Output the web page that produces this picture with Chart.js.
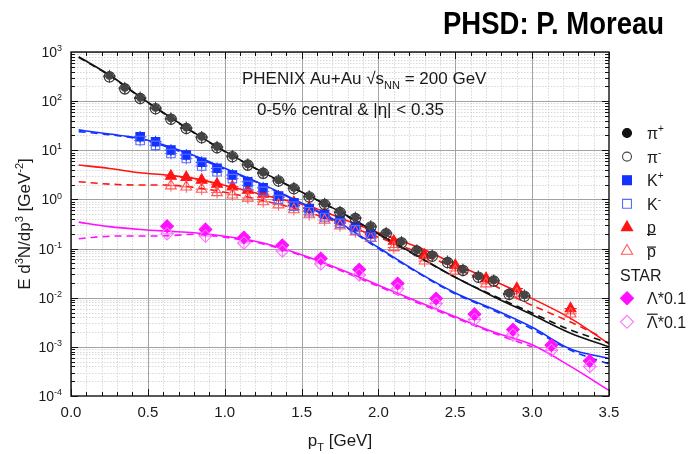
<!DOCTYPE html>
<html lang="en">
<head>
<meta charset="UTF-8">
<title>PHSD: P. Moreau - PHENIX Au+Au spectra</title>
<script src="https://cdn.jsdelivr.net/npm/chart.js"></script>
<style>
  html, body { margin: 0; padding: 0; background: #fff; }
  #wrap { width: 694px; height: 454px; }
</style>
</head>
<body>
<div id="wrap"><canvas id="spectra" width="694" height="454"></canvas></div>
<script>
// ---- PHENIX / STAR data points (pT in GeV, E d3N/dp3 in GeV^-2) ----
const pionPt = [0.25, 0.35, 0.45, 0.55, 0.65, 0.75, 0.85, 0.95, 1.05, 1.15, 1.25, 1.35, 1.45, 1.55,
                1.65, 1.75, 1.85, 1.95, 2.05, 2.15, 2.25, 2.35, 2.45, 2.55, 2.65, 2.75, 2.85, 2.95];
const piPlus = [329, 187, 119, 73, 45, 29, 18.8, 11.8, 7.7, 5.2, 3.55, 2.47, 1.72, 1.17,
                0.82, 0.56, 0.43, 0.286, 0.209, 0.137, 0.093, 0.073, 0.055, 0.0375, 0.0274, 0.0227, 0.0122, 0.0112];
const piMinus = [312, 178, 113, 70, 43, 27.8, 18, 11.3, 7.4, 5.0, 3.4, 2.37, 1.65, 1.12,
                 0.79, 0.54, 0.41, 0.275, 0.2, 0.131, 0.089, 0.07, 0.052, 0.036, 0.0262, 0.0218, 0.0117, 0.0107];

const kaonPt = [0.45, 0.55, 0.65, 0.75, 0.85, 0.95, 1.05, 1.15, 1.25, 1.35, 1.45, 1.55, 1.65, 1.75, 1.85, 1.95];
const kPlus  = [18.8, 14.9, 10.1, 8.0, 5.7, 4.3, 3.13, 2.28, 1.72, 1.17, 0.853, 0.656, 0.5, 0.38, 0.28, 0.2];
const kMinus = [15.8, 12.6, 8.6, 6.8, 4.8, 3.65, 2.65, 1.93, 1.46, 1.0, 0.73, 0.56, 0.43, 0.325, 0.24, 0.172];

const protonPt = [0.65, 0.75, 0.85, 0.95, 1.05, 1.15, 1.25, 1.35, 1.45, 1.55, 1.65, 1.75, 1.85, 1.95,
                  2.1, 2.3, 2.5, 2.7, 2.9, 3.25];
const proton     = [2.98, 2.81, 2.47, 2.05, 1.81, 1.55, 1.28, 1.10, 0.869, 0.68, 0.52, 0.40, 0.30, 0.219,
                    0.1415, 0.0734, 0.0453, 0.0246, 0.0154, 0.006];
const antiProton = [1.9, 1.8, 1.62, 1.38, 1.24, 1.07, 0.9, 0.78, 0.62, 0.49, 0.38, 0.29, 0.22, 0.162,
                    0.105, 0.056, 0.035, 0.0192, 0.012, 0.0047];

const lambdaPt = [0.625, 0.875, 1.125, 1.375, 1.625, 1.875, 2.125, 2.375, 2.625, 2.875, 3.125, 3.375];
const lambda     = [0.286, 0.245, 0.168, 0.117, 0.0628, 0.0375, 0.0195, 0.00963, 0.00462, 0.00225, 0.00108, 0.000517];
const antiLambda = [0.2, 0.18, 0.13, 0.09, 0.049, 0.029, 0.0152, 0.0076, 0.0036, 0.00175, 0.00085, 0.0004];

// ---- PHSD model curves ----
const piModelPt = [0.05, 0.25, 0.5, 0.75, 1.0, 1.25, 1.5, 1.75, 2.0, 2.25, 2.5, 2.75, 3.0, 3.25, 3.5];
const piPlusModel  = [800, 340, 95, 29, 9.6, 3.55, 1.42, 0.56, 0.2, 0.072, 0.026, 0.0105, 0.0045, 0.0019, 0.001];
const piMinusModel = [780, 332, 93, 28.5, 9.4, 3.5, 1.4, 0.55, 0.195, 0.071, 0.026, 0.011, 0.0049, 0.0022, 0.0012];

const kModelPt = [0.05, 0.2, 0.35, 0.5, 0.65, 0.8, 1.0, 1.25, 1.5, 1.75, 2.0, 2.25, 2.5, 2.75, 3.0, 3.25, 3.5];
const kPlusModel  = [26, 22.5, 19.5, 16, 11.5, 7.8, 4.3, 2.0, 0.85, 0.33, 0.105, 0.034, 0.0125, 0.0058, 0.0025, 0.0009, 0.00058];
const kMinusModel = [24, 21.5, 19, 15.5, 11, 7.5, 4.1, 1.95, 0.82, 0.32, 0.1, 0.033, 0.012, 0.0055, 0.0023, 0.00085, 0.00045];

const pModelPt = [0.05, 0.25, 0.45, 0.62, 0.8, 1.04, 1.3, 1.56, 1.75, 2.0, 2.28, 2.5, 2.75, 2.9, 3.25, 3.5];
const pModel   = [5.0, 4.27, 3.48, 3.13, 2.68, 1.81, 1.13, 0.71, 0.42, 0.21, 0.1, 0.048, 0.022, 0.0135, 0.0038, 0.00115];
const pbarModelPt = [0.05, 0.25, 0.45, 0.62, 0.8, 1.0, 1.25, 1.5, 1.75, 2.0, 2.25, 2.5, 2.75, 2.9, 3.25, 3.45];
const pbarModel   = [2.29, 2.05, 1.96, 1.96, 1.76, 1.4, 0.95, 0.6, 0.33, 0.17, 0.085, 0.04, 0.018, 0.0098, 0.0032, 0.0016];

const lamModelPt = [0.05, 0.25, 0.45, 0.62, 0.8, 1.0, 1.25, 1.5, 1.75, 2.0, 2.25, 2.5, 2.75, 3.0, 3.25, 3.5];
const lamModel   = [0.345, 0.28, 0.245, 0.226, 0.21, 0.178, 0.13, 0.075, 0.038, 0.018, 0.0085, 0.0041, 0.002, 0.0011, 0.0004, 0.00013];
const alamModelPt = [0.05, 0.15, 0.3, 0.5, 0.62, 0.8, 1.0, 1.25, 1.5, 1.75, 2.0, 2.25, 2.5, 2.75, 3.0];
const alamModel   = [0.158, 0.17, 0.18, 0.18, 0.182, 0.195, 0.17, 0.124, 0.072, 0.036, 0.017, 0.008, 0.0039, 0.0019, 0.001];

// ---- axes ----
const xTickValues = [0, 0.5, 1.0, 1.5, 2.0, 2.5, 3.0, 3.5];
const xTickLabels = ['0.0', '0.5', '1.0', '1.5', '2.0', '2.5', '3.0', '3.5'];
const yDecades = [3, 2, 1, 0, -1, -2, -3, -4];

const FONT = '"Liberation Sans", Arial, Helvetica, sans-serif';
const BLACK = '#111111';
const BLUE = '#1432ff';
const RED = '#ff1414';
const MAGENTA = '#ff10ff';

function pts(xs, ys) {
  return xs.map((x, i) => ({ x: x, y: ys[i] }));
}

function markers(label, xs, ys, style, radius, fill, stroke, order) {
  return {
    label: label, data: pts(xs, ys), showLine: false,
    pointStyle: style, pointRadius: radius, pointHoverRadius: radius,
    pointBackgroundColor: fill, pointBorderColor: stroke, pointBorderWidth: 1.1,
    errColor: stroke, order: order
  };
}

function curve(label, xs, ys, color, dashed) {
  return {
    label: label, data: pts(xs, ys), showLine: true, pointRadius: 0,
    borderColor: color, borderWidth: 1.6, borderDash: dashed ? [7, 5] : [],
    cubicInterpolationMode: 'monotone', fill: false, order: 5, isModel: true
  };
}

// ---- text helpers (super/subscripts, overlines) ----
function fontFor(kind, size) {
  const s = (kind === 'sup' || kind === 'sub') ? Math.round(size * 0.62) : size;
  return s + 'px ' + FONT;
}
function partsWidth(ctx, parts, size) {
  let w = 0;
  parts.forEach(p => { ctx.font = fontFor(p[1], size); w += ctx.measureText(p[0]).width; });
  return w;
}
function drawParts(ctx, parts, x, y, size) {
  let cx = x;
  parts.forEach(p => {
    const kind = p[1];
    ctx.font = fontFor(kind, size);
    let dy = 0;
    if (kind === 'sup') dy = -size * 0.42;
    if (kind === 'sub') dy = size * 0.3;
    ctx.fillText(p[0], cx, y + dy);
    const w = ctx.measureText(p[0]).width;
    if (kind === 'barx' || kind === 'barc' || kind === 'under') {
      const ly = kind === 'barx' ? y - size * 0.62 : (kind === 'barc' ? y - size * 0.85 : y + 1);
      ctx.save();
      ctx.strokeStyle = ctx.fillStyle;
      ctx.lineWidth = 1.2;
      ctx.beginPath(); ctx.moveTo(cx, ly); ctx.lineTo(cx + w, ly); ctx.stroke();
      ctx.restore();
    }
    cx += w;
  });
  return cx;
}

function drawMarker(ctx, style, x, y, r, fill, stroke) {
  ctx.save();
  ctx.fillStyle = fill; ctx.strokeStyle = stroke; ctx.lineWidth = 1.1;
  ctx.beginPath();
  if (style === 'circle') {
    ctx.arc(x, y, r, 0, Math.PI * 2);
  } else if (style === 'rect') {
    const s = r * Math.SQRT1_2;
    ctx.rect(x - s, y - s, 2 * s, 2 * s);
  } else if (style === 'triangle') {
    for (let k = 0; k < 3; k++) {
      const a = k * 2 * Math.PI / 3;
      const px = x + Math.sin(a) * r, py = y - Math.cos(a) * r;
      if (k === 0) ctx.moveTo(px, py); else ctx.lineTo(px, py);
    }
    ctx.closePath();
  } else if (style === 'rectRot') {
    ctx.moveTo(x, y - r); ctx.lineTo(x + r, y); ctx.lineTo(x, y + r); ctx.lineTo(x - r, y); ctx.closePath();
  }
  ctx.fill(); ctx.stroke();
  ctx.restore();
}

const legendRows = [
  { style: 'circle', r: 4.5, fill: BLACK, stroke: BLACK, text: [['π', 'n'], ['+', 'sup']] },
  { style: 'circle', r: 4.5, fill: 'rgba(0,0,0,0)', stroke: '#444', text: [['π', 'n'], ['-', 'sup']] },
  { style: 'rect', r: 6.3, fill: BLUE, stroke: BLUE, text: [['K', 'n'], ['+', 'sup']] },
  { style: 'rect', r: 6.3, fill: 'rgba(0,0,0,0)', stroke: '#5a6cff', text: [['K', 'n'], ['-', 'sup']] },
  { style: 'triangle', r: 6.5, fill: RED, stroke: RED, text: [['p', 'under']] },
  { style: 'triangle', r: 6.5, fill: 'rgba(0,0,0,0)', stroke: '#ff5a5a', text: [['p', 'barx']] },
  { style: null, text: [['STAR', 'n']] },
  { style: 'rectRot', r: 6.5, fill: MAGENTA, stroke: MAGENTA, text: [['Λ*0.1', 'n']] },
  { style: 'rectRot', r: 6.5, fill: 'rgba(0,0,0,0)', stroke: '#ff70ff', text: [['Λ', 'barc'], ['*0.1', 'n']] }
];

const decorPlugin = {
  id: 'decor',
  beforeDraw(chart) {
    const ctx = chart.ctx;
    ctx.save();
    ctx.fillStyle = '#fff';
    ctx.fillRect(0, 0, chart.width, chart.height);
    ctx.restore();
  },
  beforeDatasetsDraw(chart) {
    const ctx = chart.ctx, a = chart.chartArea, xs = chart.scales.x, ys = chart.scales.y;
    ctx.save();
    ctx.beginPath(); ctx.rect(a.left, a.top, a.right - a.left, a.bottom - a.top); ctx.clip();
    // minor grid
    ctx.strokeStyle = '#cfcfcf'; ctx.lineWidth = 0.8; ctx.setLineDash([1.5, 1.5]);
    ctx.beginPath();
    for (let i = 1; i < 35; i++) {
      if (i % 5 === 0) continue;
      const px = Math.round(xs.getPixelForValue(i / 10)) + 0.5;
      ctx.moveTo(px, a.top); ctx.lineTo(px, a.bottom);
    }
    for (let e = -4; e < 3; e++) {
      for (let m = 2; m < 10; m++) {
        const py = Math.round(ys.getPixelForValue(m * Math.pow(10, e))) + 0.5;
        ctx.moveTo(a.left, py); ctx.lineTo(a.right, py);
      }
    }
    ctx.stroke();
    // major grid
    ctx.setLineDash([]);
    ctx.strokeStyle = '#a3a3a3'; ctx.lineWidth = 1;
    ctx.beginPath();
    xTickValues.forEach(v => {
      const px = Math.round(xs.getPixelForValue(v)) + 0.5;
      ctx.moveTo(px, a.top); ctx.lineTo(px, a.bottom);
    });
    yDecades.forEach(e => {
      const py = Math.round(ys.getPixelForValue(Math.pow(10, e))) + 0.5;
      ctx.moveTo(a.left, py); ctx.lineTo(a.right, py);
    });
    ctx.stroke();
    // error bars of the data points
    ctx.lineWidth = 1;
    chart.data.datasets.forEach(ds => {
      if (ds.isModel) return;
      ctx.strokeStyle = ds.errColor;
      ctx.beginPath();
      ds.data.forEach(p => {
        const px = xs.getPixelForValue(p.x), py = ys.getPixelForValue(p.y);
        const y1 = ys.getPixelForValue(p.y * 1.32), y2 = ys.getPixelForValue(p.y / 1.32);
        const x1 = xs.getPixelForValue(p.x - 0.04), x2 = xs.getPixelForValue(p.x + 0.04);
        ctx.moveTo(px, y1); ctx.lineTo(px, y2);
        ctx.moveTo(x1, py); ctx.lineTo(x2, py);
      });
      ctx.stroke();
    });
    ctx.restore();
  },
  afterDraw(chart) {
    const ctx = chart.ctx, a = chart.chartArea, xs = chart.scales.x, ys = chart.scales.y;
    ctx.save();
    // frame
    ctx.strokeStyle = BLACK; ctx.lineWidth = 1.4;
    ctx.strokeRect(a.left, a.top, a.right - a.left, a.bottom - a.top);
    // ticks
    ctx.lineWidth = 1;
    ctx.beginPath();
    for (let i = 0; i <= 35; i++) {
      const px = Math.round(xs.getPixelForValue(i / 10)) + 0.5;
      const len = i % 5 === 0 ? 7 : 4;
      ctx.moveTo(px, a.bottom); ctx.lineTo(px, a.bottom - len);
      ctx.moveTo(px, a.top); ctx.lineTo(px, a.top + len);
    }
    for (let e = -4; e < 3; e++) {
      for (let m = 1; m < 10; m++) {
        const py = Math.round(ys.getPixelForValue(m * Math.pow(10, e))) + 0.5;
        const len = m === 1 ? 7 : 4;
        ctx.moveTo(a.left, py); ctx.lineTo(a.left + len, py);
        ctx.moveTo(a.right, py); ctx.lineTo(a.right - len, py);
      }
    }
    ctx.stroke();

    ctx.fillStyle = '#1a1a1a';
    ctx.textBaseline = 'alphabetic';
    // x tick labels
    ctx.font = '15px ' + FONT; ctx.textAlign = 'center';
    xTickValues.forEach((v, i) => ctx.fillText(xTickLabels[i], xs.getPixelForValue(v), a.bottom + 21));
    // y tick labels (10^n)
    ctx.textAlign = 'left';
    yDecades.forEach(e => {
      const py = ys.getPixelForValue(Math.pow(10, e));
      const parts = [['10', 'n'], [String(e), 'sup']];
      const w = partsWidth(ctx, parts, 14);
      drawParts(ctx, parts, a.left - 9 - w, py + 5, 14);
    });
    // axis titles
    const xt = [['p', 'n'], ['T', 'sub'], [' [GeV]', 'n']];
    const xtw = partsWidth(ctx, xt, 17);
    drawParts(ctx, xt, (a.left + a.right) / 2 - xtw / 2, 446, 17);
    const yt = [['E d', 'n'], ['3', 'sup'], ['N/dp', 'n'], ['3', 'sup'], [' [GeV', 'n'], ['-2', 'sup'], [']', 'n']];
    const ytw = partsWidth(ctx, yt, 17);
    ctx.save();
    ctx.translate(30, (a.top + a.bottom) / 2);
    ctx.rotate(-Math.PI / 2);
    drawParts(ctx, yt, -ytw / 2, 0, 17);
    ctx.restore();
    // annotation inside the frame
    drawParts(ctx, [['PHENIX Au+Au √s', 'n'], ['NN', 'sub'], [' = 200 GeV', 'n']], 242, 84, 17);
    drawParts(ctx, [['0-5% central & |η| < 0.35', 'n']], 257, 115, 17);
    // header
    ctx.font = 'bold 31px ' + FONT;
    const head = 'PHSD: P. Moreau';
    const hw = ctx.measureText(head).width;
    ctx.save();
    ctx.translate(664, 34);
    ctx.scale(221 / hw, 1);
    ctx.textAlign = 'right';
    ctx.fillStyle = '#000';
    ctx.fillText(head, 0, 0);
    ctx.restore();
    // legend
    legendRows.forEach((row, i) => {
      const y = 133 + i * 23.6;
      if (row.style) {
        drawMarker(ctx, row.style, 627, y, row.r, row.fill, row.stroke);
        drawParts(ctx, row.text, 647, y + 6, 16);
      } else {
        drawParts(ctx, row.text, 620, y + 6, 16);
      }
    });
    ctx.restore();
  }
};

const chart = new Chart(document.getElementById('spectra').getContext('2d'), {
  type: 'scatter',
  data: {
    datasets: [
      markers('π-', pionPt, piMinus, 'circle', 5.2, 'rgba(255,255,255,0)', '#333', 0),
      markers('π+', pionPt, piPlus, 'circle', 3.4, '#444', '#444', 1),
      markers('K-', kaonPt, kMinus, 'rect', 6.0, 'rgba(255,255,255,0)', '#5a6cff', 1),
      markers('K+', kaonPt, kPlus, 'rect', 6.0, BLUE, BLUE, 2),
      markers('pbar', protonPt, antiProton, 'triangle', 6.2, 'rgba(255,255,255,0)', '#ff5a5a', 1),
      markers('p', protonPt, proton, 'triangle', 6.2, RED, RED, 2),
      markers('anti-Lambda*0.1', lambdaPt, antiLambda, 'rectRot', 6.3, 'rgba(255,255,255,0)', '#ff70ff', 1),
      markers('Lambda*0.1', lambdaPt, lambda, 'rectRot', 6.3, MAGENTA, MAGENTA, 2),
      curve('PHSD π+', piModelPt, piPlusModel, BLACK, false),
      curve('PHSD π-', piModelPt, piMinusModel, BLACK, true),
      curve('PHSD K+', kModelPt, kPlusModel, BLUE, false),
      curve('PHSD K-', kModelPt, kMinusModel, BLUE, true),
      curve('PHSD p', pModelPt, pModel, RED, false),
      curve('PHSD pbar', pbarModelPt, pbarModel, RED, true),
      curve('PHSD Lambda', lamModelPt, lamModel, MAGENTA, false),
      curve('PHSD anti-Lambda', alamModelPt, alamModel, MAGENTA, true)
    ]
  },
  options: {
    responsive: false,
    animation: false,
    layout: { padding: { left: 71, right: 85, top: 52, bottom: 58 } },
    scales: {
      x: { type: 'linear', display: false, min: 0, max: 3.5 },
      y: { type: 'logarithmic', display: false, min: 1e-4, max: 1e3 }
    },
    plugins: { legend: { display: false }, tooltip: { enabled: false } }
  },
  plugins: [decorPlugin]
});
</script>
</body>
</html>
